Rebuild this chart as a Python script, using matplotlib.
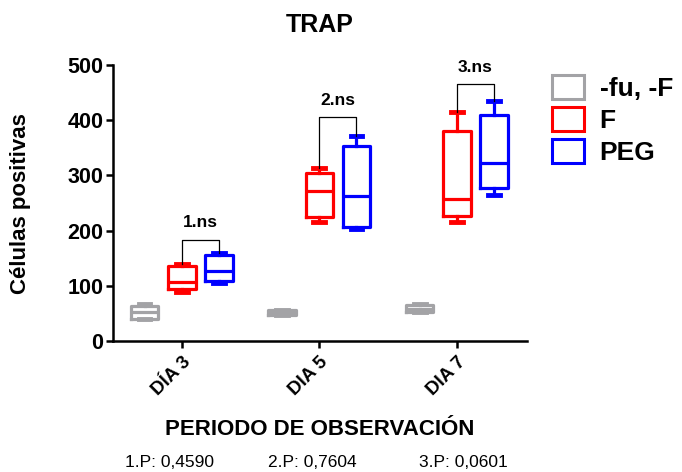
import numpy as np
import matplotlib
import matplotlib.pyplot as plt

matplotlib.use('agg')
plt.rcParams['font.family'] = ['Liberation Sans', 'DejaVu Sans']

days = ["DÍA 3", "DIA 5", "DIA 7"]
groups = ["-fu, -F", "F", "PEG"]
colors = ["#a3a3a6", "#ff0000", "#0000ff"]

# five-number summaries per group, one value per day
mins = {"-fu, -F": [40, 48, 52], "F": [89, 216, 216], "PEG": [105, 203, 264]}
q1s = {"-fu, -F": [40, 48, 53], "F": [95, 225, 226], "PEG": [109, 207, 278]}
meds = {"-fu, -F": [52, 52, 58], "F": [107, 271, 258], "PEG": [127, 262, 322]}
q3s = {"-fu, -F": [64, 56, 66], "F": [135, 305, 380], "PEG": [156, 353, 409]}
maxs = {"-fu, -F": [67, 57, 67], "F": [140, 313, 414], "PEG": [160, 371, 435]}

sig_labels = ["1.ns", "2.ns", "3.ns"]
sig_heights = [183, 405, 465]
p_values = ["1.P: 0,4590", "2.P: 0,7604", "3.P: 0,0601"]

W, H = 682, 472
fig = plt.figure(figsize=(W / 100, H / 100), dpi=100)
ax = fig.add_axes([113 / W, 1 - 341 / H, 414 / W, 276 / H])

offsets = [-0.27, 0.0, 0.27]
for g, off, col in zip(groups, offsets, colors):
    stats = []
    for i in range(len(days)):
        stats.append(dict(whislo=mins[g][i], q1=q1s[g][i], med=meds[g][i],
                          q3=q3s[g][i], whishi=maxs[g][i], fliers=[]))
    pos = np.arange(len(days)) + off
    ax.bxp(stats, positions=pos, widths=0.2, showfliers=False,
           boxprops=dict(color=col, lw=2.3),
           medianprops=dict(color=col, lw=2.3),
           whiskerprops=dict(color=col, lw=2.3),
           capprops=dict(color=col, lw=3.5), capwidths=0.085,
           manage_ticks=False)

# significance brackets between F and PEG
for i in range(len(days)):
    x1, x2 = i + offsets[1], i + offsets[2]
    y1, y2 = maxs["F"][i], maxs["PEG"][i]
    h = sig_heights[i]
    ax.plot([x1, x1, x2, x2], [y1, h, h, y2], color="black", lw=0.9)
    ax.text((x1 + x2) / 2, h + 23, sig_labels[i], ha="center", va="baseline",
            fontsize=12.5, fontweight="bold")

ax.set_xlim(-0.5, 2.51)
ax.set_ylim(0, 500)
ax.set_xticks(range(len(days)))
ax.set_xticklabels(days, rotation=45, ha="right", rotation_mode="anchor",
                   fontsize=13.5, fontweight="bold")
ax.set_yticks([0, 100, 200, 300, 400, 500])
ax.set_yticklabels([0, 100, 200, 300, 400, 500], fontsize=15.5, fontweight="bold")
ax.tick_params(width=1.8, length=5, pad=2)
ax.tick_params(axis="x", pad=4)
for s in ["top", "right"]:
    ax.spines[s].set_visible(False)
for s in ["left", "bottom"]:
    ax.spines[s].set_linewidth(1.8)

ax.set_title("TRAP", fontsize=18, fontweight="bold", pad=24, x=(320 - 113) / 414)
fig.text(21 / W, 1 - 204 / H, "Células positivas", rotation=90, ha="center",
         va="center", fontsize=16, fontweight="bold")
fig.text(320 / W, 1 - 435 / H, "PERIODO DE OBSERVACIÓN", ha="center",
         va="baseline", fontsize=16, fontweight="bold")

handles = [plt.Rectangle((0, 0), 1, 1, facecolor="white", edgecolor=c, lw=2.2)
           for c in colors]
fig.legend(handles, groups, loc="upper left", bbox_to_anchor=(552 / W, 1 - 75 / H),
           frameon=False, prop=dict(size=19, weight="bold"), borderpad=0,
           borderaxespad=0, handlelength=1.2, handleheight=1.02,
           handletextpad=0.6, labelspacing=0.22)

p_x = [125, 268, 419]
for x, p in zip(p_x, p_values):
    fig.text(x / W, 1 - 467 / H, p, fontsize=12.5, ha="left", va="baseline")

fig.savefig("out.png", dpi=100)
